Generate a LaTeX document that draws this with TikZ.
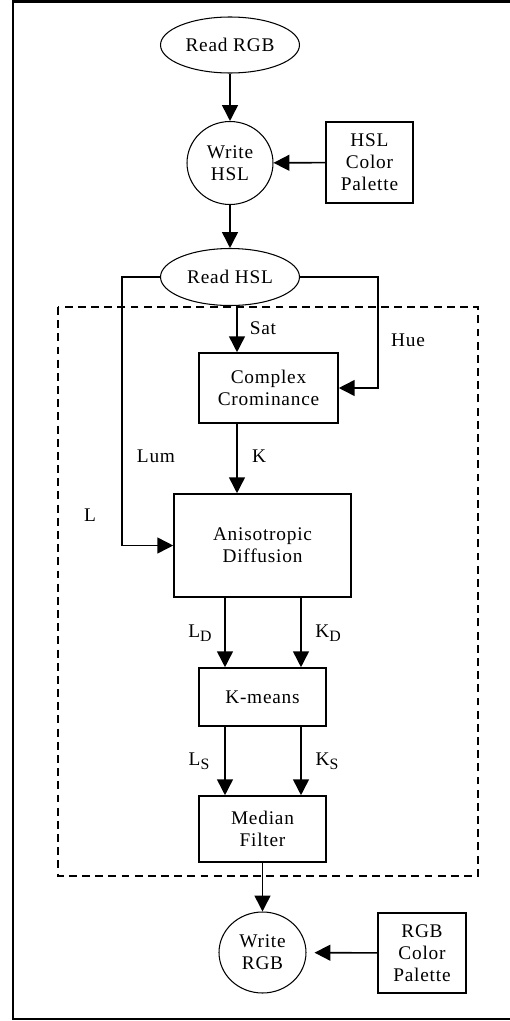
\documentclass[tikz,border=0pt]{standalone}
\usepackage{fontspec}
\setmainfont{Liberation Serif}[LetterSpace=4]
\usetikzlibrary{shapes.geometric,arrows.meta}
\newcommand{\lowsub}[1]{\raisebox{-0.45ex}{\fontsize{9}{10}\selectfont #1}}

\begin{document}
\begin{tikzpicture}[x=0.02cm, y=-0.02cm, >={Triangle[length=9pt,width=9pt]},
    every node/.style={font=\fontsize{11}{12.5}\selectfont, align=center},
    proc/.style={draw, line width=0.9pt, inner sep=0pt},
    io/.style={draw, ellipse, line width=0.6pt, inner sep=0pt},
    lbl/.style={inner sep=0pt},
    flow/.style={->, line width=0.9pt}]
    \useasboundingbox (0,0) rectangle (510,1021);
    \draw[line width=1.5pt] (13,1.5) rectangle (520,1019);
    \draw[dash pattern=on 4.5pt off 3pt, line width=0.8pt] (58,307) rectangle (478,876);
    % stages
    \node[io, minimum width=2.78cm, minimum height=1.12cm] (readrgb) at (230,45) {Read RGB};
    \node[io, minimum width=1.72cm, minimum height=1.66cm] (writehsl) at (230,163) {Write\\HSL};
    \node[proc, minimum width=1.74cm, minimum height=1.62cm] (hslpal) at (369.5,162.5) {HSL\\Color\\Palette};
    \node[io, minimum width=2.78cm, minimum height=1.14cm] (readhsl) at (230,277) {Read HSL};
    \node[proc, minimum width=2.78cm, minimum height=1.4cm] (complex) at (268.5,388) {Complex\\Crominance};
    \node[proc, minimum width=3.54cm, minimum height=2.06cm] (aniso) at (262.5,545.5) {Anisotropic\\Diffusion};
    \node[proc, minimum width=2.54cm, minimum height=1.16cm] (kmeans) at (262.5,697) {K-means};
    \node[proc, minimum width=2.54cm, minimum height=1.32cm] (median) at (262.5,829) {Median\\Filter};
    \node[io, minimum width=1.74cm, minimum height=1.62cm] (writergb) at (262.5,952.5) {Write\\RGB};
    \node[proc, minimum width=1.76cm, minimum height=1.6cm] (rgbpal) at (422,953) {RGB\\Color\\Palette};
    \coordinate (satx) at (237,0);
    \coordinate (lx) at (225,0);
    \coordinate (kx) at (301,0);
    % flows
    \draw[flow] (readrgb) -- (writehsl);
    \draw[flow] (hslpal) -- (writehsl);
    \draw[flow] (writehsl) -- (readhsl);
    \draw[flow] (readhsl.west) -- ++(-38,0) |- (aniso.west);
    \draw[flow] (readhsl.east) -- ++(78,0) |- (complex.east);
    \draw[flow] (readhsl.south -| satx) -- (complex.north -| satx);
    \draw[flow] (complex.south -| satx) -- (aniso.north -| satx);
    \draw[flow] (aniso.south -| lx) -- (kmeans.north -| lx);
    \draw[flow] (aniso.south -| kx) -- (kmeans.north -| kx);
    \draw[flow] (kmeans.south -| lx) -- (median.north -| lx);
    \draw[flow] (kmeans.south -| kx) -- (median.north -| kx);
    \draw[flow] (median) -- (writergb);
    \draw[flow, shorten >=0.16cm] (rgbpal) -- (writergb);
    % labels
    \node[lbl] (sat) at (263,328) {Sat};
    \node[lbl] (hue) at (408,340) {Hue};
    \node[lbl] (kk) at (259,456) {K};
    \node[lbl] (lum) at (156,456) {Lum};
    \node[lbl] (ll) at (90,515) {L};
    \node[lbl] (ld) at (200,633) {L\lowsub{D}};
    \node[lbl] (kd) at (328,633) {K\lowsub{D}};
    \node[lbl] (ls) at (199,761) {L\lowsub{S}};
    \node[lbl] (ks) at (327,761) {K\lowsub{S}};
\end{tikzpicture}
\end{document}
